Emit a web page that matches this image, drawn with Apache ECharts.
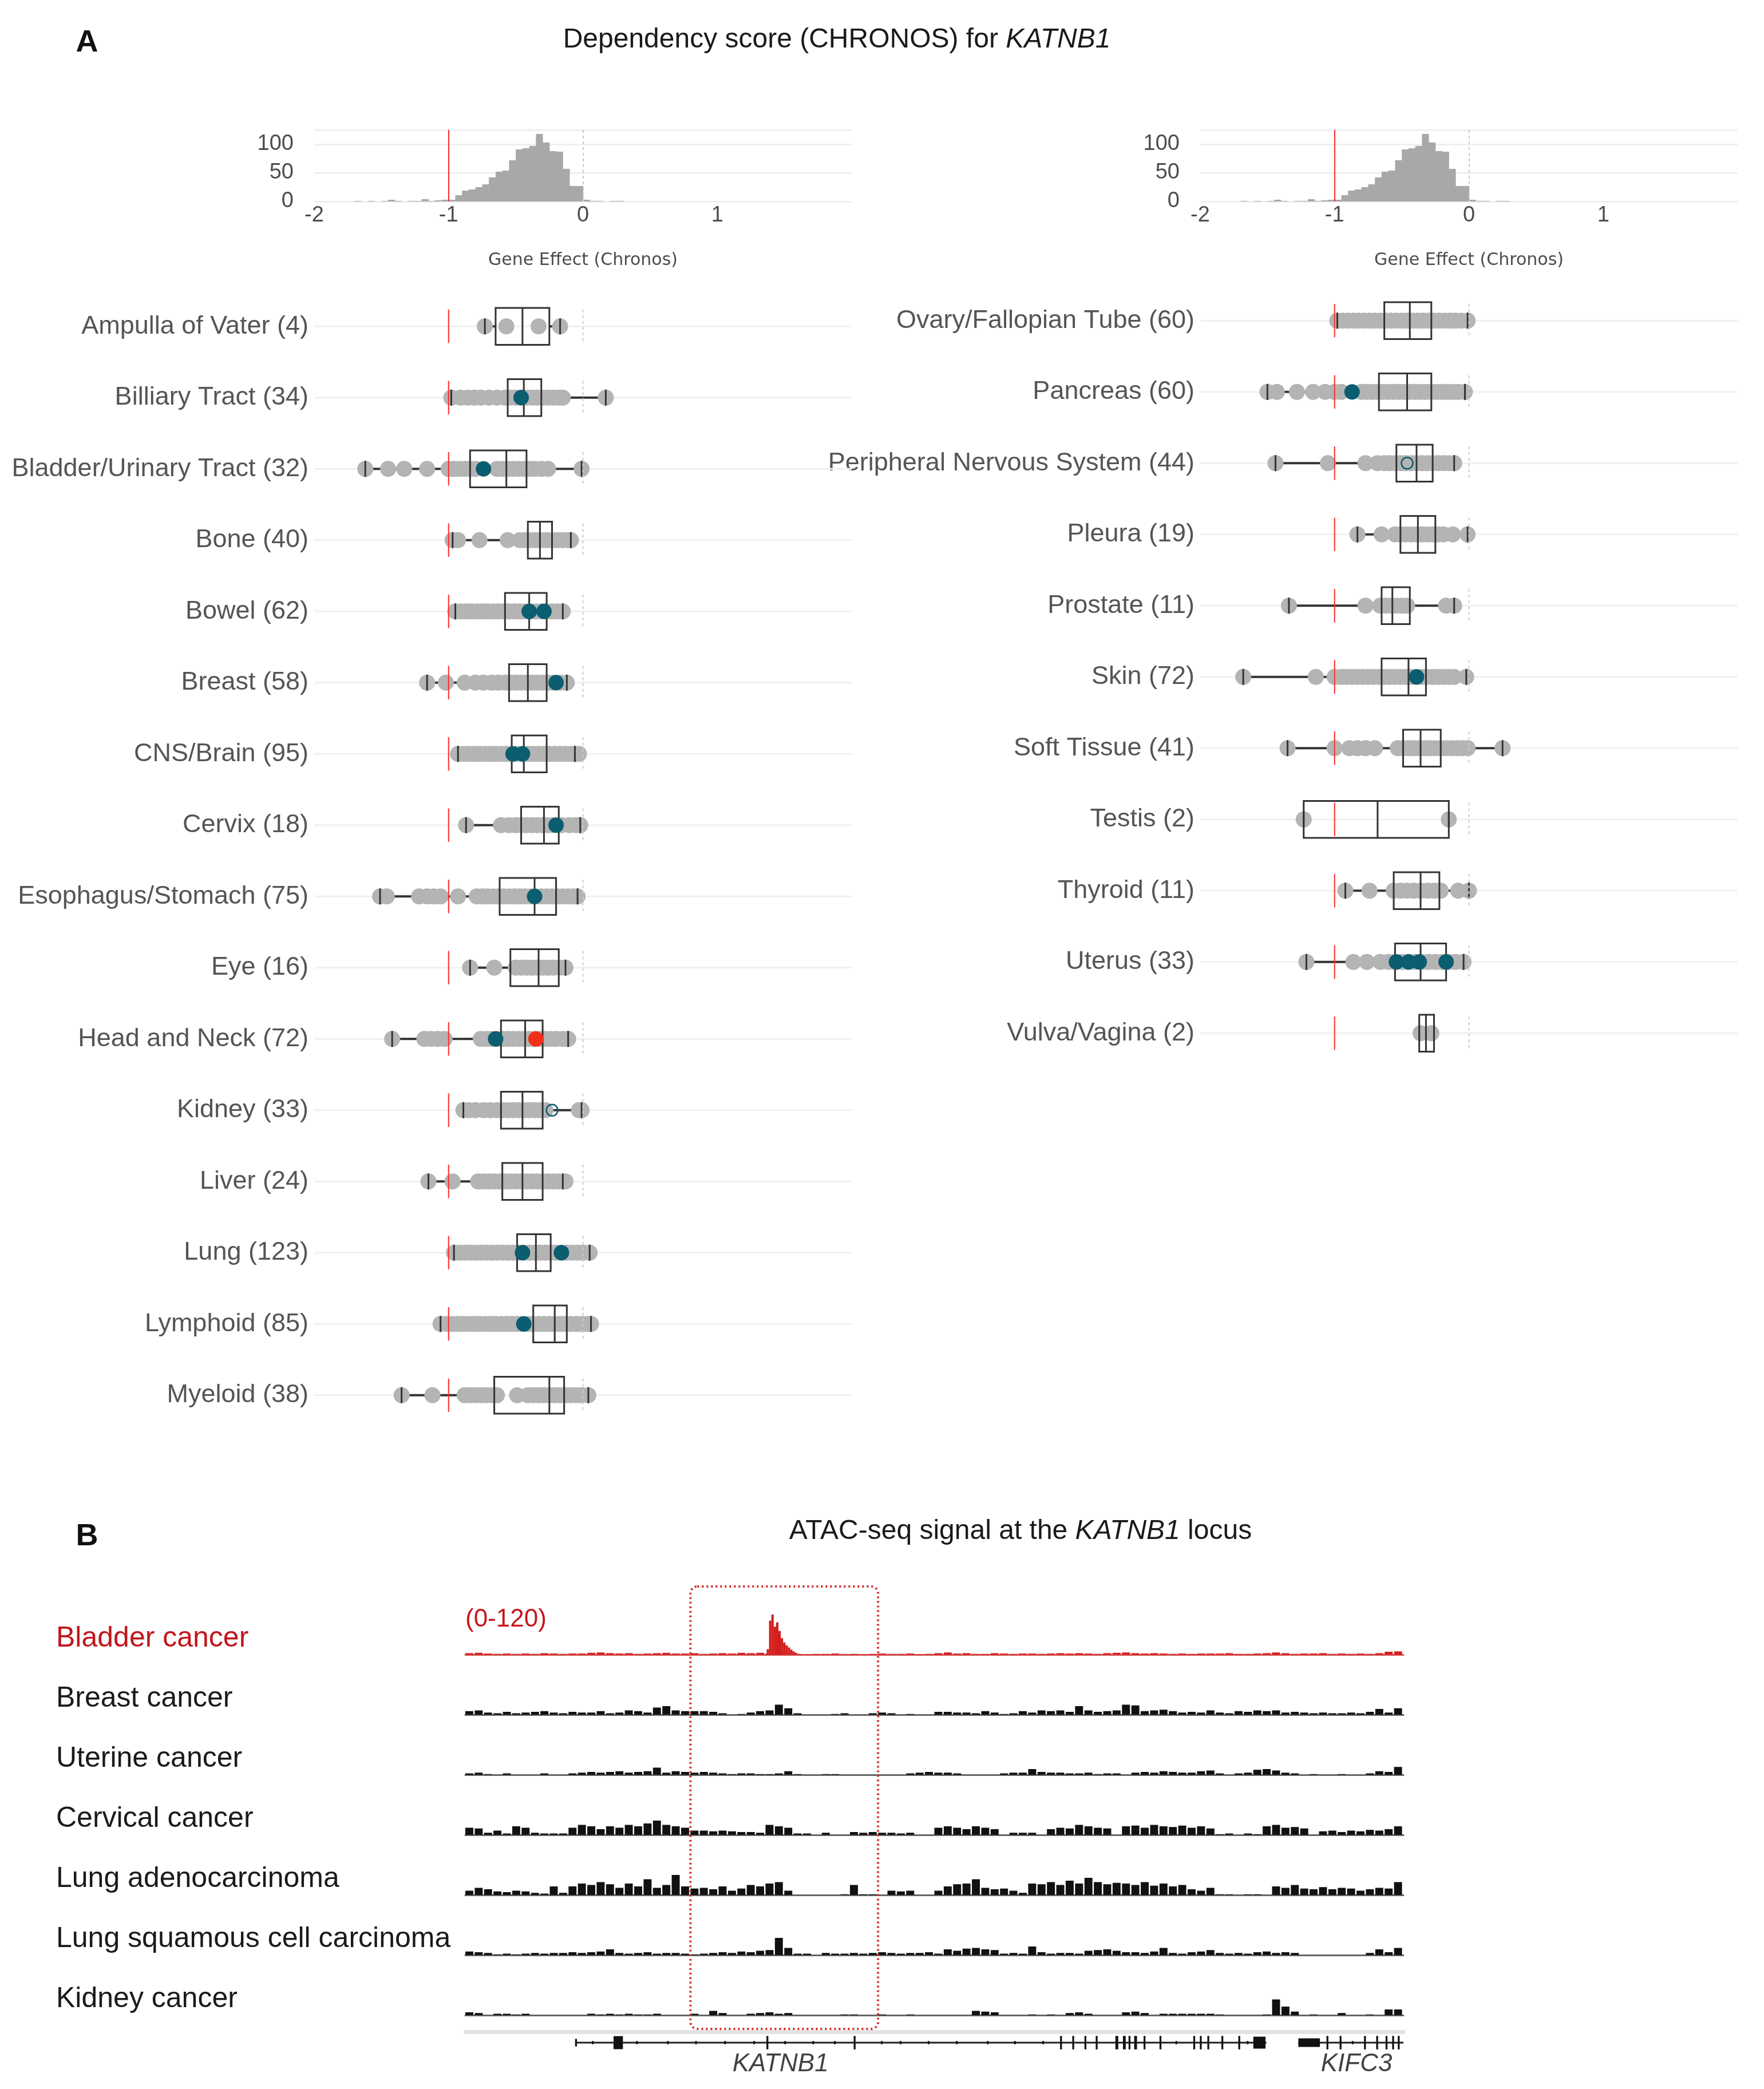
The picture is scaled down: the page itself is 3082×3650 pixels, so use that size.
<!DOCTYPE html>
<html>
<head>
<meta charset="utf-8">
<script src="https://cdn.jsdelivr.net/npm/echarts@6/dist/echarts.min.js"></script>
<style>
  html, body { margin: 0; padding: 0; background: #fff; }
  #chart { width: 3082px; height: 3650px; }
</style>
</head>
<body>
<div id="chart"></div>
<script>
// ---- panel A: histogram of gene effect ----
var histBinStart = [-1.70, -1.65, -1.60, -1.55, -1.50, -1.45, -1.40, -1.35, -1.30, -1.25,
                    -1.20, -1.15, -1.10, -1.05, -1.00, -0.95, -0.90, -0.85, -0.80, -0.75,
                    -0.70, -0.65, -0.60, -0.55, -0.50, -0.45, -0.40, -0.35, -0.30, -0.25,
                    -0.20, -0.15, -0.10, -0.05, 0.00, 0.05, 0.10, 0.15, 0.20, 0.25];
var histCounts = [1, 0, 1, 0, 1, 3, 1, 0, 1, 1,
                  4, 1, 2, 3, 3, 11, 19, 21, 25, 30,
                  42, 52, 54, 72, 91, 93, 97, 118, 103, 88,
                  87, 57, 27, 27, 3, 1, 1, 0, 1, 1];
var histBinWidth = 0.05;
var xTicks = [-2, -1, 0, 1];

// ---- panel A: lineages ----
var leftCats = ['Ampulla of Vater (4)', 'Billiary Tract (34)', 'Bladder/Urinary Tract (32)', 'Bone (40)',
  'Bowel (62)', 'Breast (58)', 'CNS/Brain (95)', 'Cervix (18)', 'Esophagus/Stomach (75)', 'Eye (16)',
  'Head and Neck (72)', 'Kidney (33)', 'Liver (24)', 'Lung (123)', 'Lymphoid (85)', 'Myeloid (38)'];
var rightCats = ['Ovary/Fallopian Tube (60)', 'Pancreas (60)', 'Peripheral Nervous System (44)', 'Pleura (19)',
  'Prostate (11)', 'Skin (72)', 'Soft Tissue (41)', 'Testis (2)', 'Thyroid (11)', 'Uterus (33)', 'Vulva/Vagina (2)'];

// [lower whisker, Q1, median, Q3, upper whisker]
var leftBox = [
  [-0.73, -0.65, -0.45, -0.25, -0.17],
  [-0.98, -0.56, -0.44, -0.31, 0.17],
  [-1.62, -0.84, -0.57, -0.42, -0.01],
  [-0.97, -0.41, -0.32, -0.23, -0.09],
  [-0.95, -0.58, -0.40, -0.27, -0.15],
  [-1.16, -0.55, -0.41, -0.27, -0.12],
  [-0.93, -0.53, -0.44, -0.27, -0.06],
  [-0.87, -0.46, -0.29, -0.18, -0.02],
  [-1.51, -0.62, -0.36, -0.20, -0.04],
  [-0.84, -0.54, -0.33, -0.18, -0.13],
  [-1.42, -0.61, -0.43, -0.30, -0.11],
  [-0.89, -0.61, -0.45, -0.30, -0.01],
  [-1.15, -0.60, -0.45, -0.30, -0.15],
  [-0.96, -0.49, -0.35, -0.24, 0.05],
  [-1.06, -0.37, -0.21, -0.12, 0.06],
  [-1.35, -0.66, -0.25, -0.14, 0.04]
];
var rightBox = [
  [-0.98, -0.63, -0.44, -0.28, -0.01],
  [-1.50, -0.67, -0.46, -0.28, -0.03],
  [-1.44, -0.54, -0.39, -0.27, -0.11],
  [-0.83, -0.51, -0.38, -0.25, -0.01],
  [-1.34, -0.65, -0.57, -0.44, -0.11],
  [-1.68, -0.65, -0.45, -0.32, -0.02],
  [-1.35, -0.49, -0.36, -0.21, 0.25],
  [-1.23, -1.23, -0.68, -0.15, -0.15],
  [-0.92, -0.56, -0.36, -0.22, 0.00],
  [-1.21, -0.55, -0.36, -0.17, -0.04],
  [-0.37, -0.37, -0.32, -0.26, -0.26]
];

// visible cell-line points per lineage (grey)
var leftPoints = [
  [-0.73, -0.57, -0.33, -0.17],
  [-0.98, -0.91, -0.86, -0.81, -0.76, -0.70, -0.64, -0.58, -0.54, -0.50, -0.46, -0.42, -0.38, -0.34, -0.30, -0.26, -0.22, -0.18, -0.15, 0.17],
  [-1.62, -1.45, -1.33, -1.16, -1.00, -0.96, -0.92, -0.88, -0.84, -0.80, -0.64, -0.60, -0.56, -0.52, -0.48, -0.44, -0.40, -0.36, -0.31, -0.26, -0.01],
  [-0.97, -0.93, -0.77, -0.56, -0.47, -0.43, -0.39, -0.35, -0.31, -0.27, -0.23, -0.19, -0.15, -0.11, -0.09],
  [-0.95, -0.91, -0.87, -0.83, -0.79, -0.75, -0.71, -0.67, -0.63, -0.59, -0.55, -0.51, -0.47, -0.43, -0.39, -0.35, -0.31, -0.27, -0.23, -0.19, -0.15],
  [-1.16, -1.02, -0.88, -0.80, -0.74, -0.68, -0.63, -0.58, -0.54, -0.50, -0.46, -0.42, -0.38, -0.34, -0.30, -0.26, -0.22, -0.17, -0.12],
  [-0.93, -0.89, -0.85, -0.81, -0.77, -0.73, -0.69, -0.65, -0.61, -0.57, -0.53, -0.49, -0.45, -0.41, -0.37, -0.33, -0.29, -0.25, -0.21, -0.17, -0.13, -0.09, -0.06, -0.03],
  [-0.87, -0.61, -0.55, -0.50, -0.46, -0.42, -0.38, -0.34, -0.30, -0.26, -0.22, -0.16, -0.10, -0.05, -0.02],
  [-1.51, -1.46, -1.22, -1.16, -1.11, -1.06, -0.93, -0.79, -0.75, -0.71, -0.67, -0.63, -0.59, -0.55, -0.51, -0.47, -0.43, -0.39, -0.35, -0.31, -0.27, -0.23, -0.19, -0.15, -0.11, -0.07, -0.04],
  [-0.84, -0.66, -0.50, -0.46, -0.42, -0.38, -0.34, -0.30, -0.26, -0.22, -0.17, -0.13],
  [-1.42, -1.18, -1.13, -1.08, -1.03, -0.76, -0.72, -0.68, -0.64, -0.60, -0.56, -0.52, -0.48, -0.44, -0.40, -0.36, -0.32, -0.28, -0.24, -0.20, -0.15, -0.11],
  [-0.89, -0.85, -0.80, -0.74, -0.69, -0.64, -0.60, -0.56, -0.52, -0.48, -0.44, -0.40, -0.36, -0.32, -0.28, -0.03, -0.01],
  [-1.15, -0.97, -0.78, -0.74, -0.70, -0.66, -0.62, -0.58, -0.54, -0.50, -0.46, -0.42, -0.38, -0.34, -0.30, -0.26, -0.22, -0.18, -0.13],
  [-0.96, -0.92, -0.88, -0.84, -0.80, -0.76, -0.72, -0.68, -0.64, -0.60, -0.56, -0.52, -0.48, -0.44, -0.40, -0.36, -0.32, -0.28, -0.24, -0.20, -0.16, -0.12, -0.08, -0.04, 0.00, 0.05],
  [-1.06, -1.01, -0.97, -0.93, -0.89, -0.85, -0.81, -0.77, -0.73, -0.69, -0.65, -0.61, -0.57, -0.53, -0.49, -0.45, -0.41, -0.37, -0.33, -0.29, -0.25, -0.21, -0.17, -0.13, -0.09, -0.05, -0.01, 0.03, 0.06],
  [-1.35, -1.12, -0.88, -0.84, -0.80, -0.76, -0.72, -0.68, -0.64, -0.49, -0.41, -0.37, -0.33, -0.29, -0.25, -0.21, -0.17, -0.13, -0.09, -0.05, -0.01, 0.04]
];
var rightPoints = [
  [-0.98, -0.94, -0.90, -0.86, -0.82, -0.78, -0.74, -0.70, -0.66, -0.62, -0.58, -0.54, -0.50, -0.46, -0.42, -0.38, -0.34, -0.30, -0.26, -0.22, -0.18, -0.14, -0.10, -0.06, -0.01],
  [-1.50, -1.43, -1.28, -1.16, -1.07, -1.00, -0.95, -0.80, -0.76, -0.72, -0.68, -0.64, -0.60, -0.56, -0.52, -0.48, -0.44, -0.40, -0.36, -0.32, -0.28, -0.24, -0.20, -0.16, -0.12, -0.08, -0.03],
  [-1.44, -1.05, -0.77, -0.68, -0.63, -0.59, -0.55, -0.51, -0.47, -0.43, -0.39, -0.35, -0.31, -0.27, -0.23, -0.19, -0.15, -0.11],
  [-0.83, -0.65, -0.55, -0.51, -0.47, -0.43, -0.39, -0.35, -0.31, -0.27, -0.23, -0.19, -0.12, -0.01],
  [-1.34, -0.77, -0.66, -0.62, -0.58, -0.54, -0.50, -0.46, -0.17, -0.11],
  [-1.68, -1.14, -1.00, -0.95, -0.91, -0.87, -0.83, -0.79, -0.75, -0.71, -0.67, -0.63, -0.59, -0.55, -0.51, -0.47, -0.43, -0.39, -0.35, -0.31, -0.27, -0.23, -0.19, -0.15, -0.11, -0.02],
  [-1.35, -1.00, -0.89, -0.83, -0.77, -0.70, -0.53, -0.49, -0.45, -0.41, -0.37, -0.33, -0.29, -0.25, -0.21, -0.17, -0.13, -0.09, -0.05, -0.01, 0.25],
  [-1.23, -0.15],
  [-0.92, -0.74, -0.56, -0.51, -0.46, -0.41, -0.36, -0.31, -0.26, -0.21, -0.08, 0.00],
  [-1.21, -0.86, -0.76, -0.66, -0.60, -0.55, -0.50, -0.45, -0.40, -0.35, -0.30, -0.25, -0.20, -0.15, -0.10, -0.04],
  [-0.36, -0.28]
];

// highlighted cell lines
var leftTeal = [['Billiary Tract (34)', -0.46], ['Bladder/Urinary Tract (32)', -0.74], ['Bowel (62)', -0.40],
  ['Bowel (62)', -0.29], ['Breast (58)', -0.20], ['CNS/Brain (95)', -0.52], ['CNS/Brain (95)', -0.45],
  ['Cervix (18)', -0.20], ['Esophagus/Stomach (75)', -0.36], ['Head and Neck (72)', -0.65],
  ['Lung (123)', -0.45], ['Lung (123)', -0.16], ['Lymphoid (85)', -0.44]];
var leftHollow = [['Kidney (33)', -0.23]];
var leftRed = [['Head and Neck (72)', -0.35]];
var rightTeal = [['Pancreas (60)', -0.87], ['Skin (72)', -0.39], ['Uterus (33)', -0.54],
  ['Uterus (33)', -0.45], ['Uterus (33)', -0.37], ['Uterus (33)', -0.17]];
var rightHollow = [['Peripheral Nervous System (44)', -0.46]];
var rightRed = [];

// ---- panel B: ATAC-seq tracks (signal per 10-unit bin) ----
var atacNames = ['Bladder cancer', 'Breast cancer', 'Uterine cancer', 'Cervical cancer',
  'Lung adenocarcinoma', 'Lung squamous cell carcinoma', 'Kidney cancer'];
var atacScale = [120, 60, 60, 60, 60, 60, 60];
var atacBin = 10;
var atacBladder = [4,5,3,2,3,2,3,2,4,3, 2,3,3,5,6,4,3,4,2,3, 4,5,3,3,4,2,3,4,3,5, 4,5,3,3,2,2,1,2,2,3,
  1,2,1,2,3,2,2,3,1,2, 4,6,3,4,2,2,4,3,2,3, 3,2,3,4,3,4,3,2,4,5, 6,4,3,4,3,2,3,2,3,3,
  3,4,2,2,3,4,6,4,2,3, 3,4,2,3,2,3,2,4,8,9];
var bladderPeak = [[322.5, 15], [325, 95], [327.5, 112], [330, 78], [332.5, 90], [335, 66], [337.5, 46],
  [340, 34], [342.5, 26], [345, 20], [347.5, 14], [350, 9], [352.5, 5]];
var atacBreast = [5,6,3,2,4,2,3,4,5,3, 2,4,3,3,5,2,3,6,5,3, 10,12,6,5,5,5,4,2,0,1, 3,5,6,14,9,2,0,0,0,1,
  2,0,0,2,3,2,0,1,0,0, 4,4,3,3,2,5,3,1,2,5, 3,6,5,6,4,12,6,4,5,6, 14,13,5,6,7,5,3,4,3,6,
  3,2,5,4,6,5,6,3,4,3, 2,3,2,2,3,2,4,8,3,9];
var atacUterine = [2,3,1,0,2,0,0,0,2,0, 0,2,3,4,3,4,5,3,4,5, 10,3,5,4,3,4,3,2,1,2, 2,1,1,2,5,1,0,0,1,1,
  0,0,0,0,0,0,0,2,3,4, 3,3,2,0,0,0,0,2,3,3, 8,4,3,3,2,2,3,1,2,2, 0,3,4,3,5,4,3,3,5,6,
  2,0,2,3,7,8,6,3,2,0, 1,0,0,1,0,0,2,5,4,11];
var atacCervical = [10,9,3,6,2,12,10,3,2,2, 2,10,14,12,8,12,10,14,12,16, 20,14,12,10,6,6,5,6,5,4,
  4,3,14,12,10,2,2,0,3,0, 0,4,3,4,3,3,2,3,0,0, 10,12,10,8,12,10,8,0,3,3, 3,0,8,10,9,14,12,10,9,0,
  12,13,10,14,12,11,13,10,12,9, 1,2,0,2,1,12,14,10,11,9, 0,5,6,4,6,5,7,6,8,12];
var atacLungAd = [6,10,8,5,4,6,5,3,2,12, 3,12,16,14,18,15,10,16,12,22, 10,14,28,12,9,10,8,12,6,9,
  14,12,16,18,6,0,0,0,0,0, 1,14,1,1,0,6,5,6,0,0, 6,12,15,16,22,10,8,9,6,3, 16,15,18,14,20,16,24,18,15,17,
  16,14,18,13,16,12,14,8,6,10, 1,1,0,1,1,0,12,10,14,9, 8,11,8,10,9,6,8,10,9,18];
var atacLungSq = [5,4,3,1,2,1,2,3,2,3, 3,4,3,4,5,8,3,2,3,4, 2,3,3,2,1,2,3,4,3,5, 4,6,7,24,10,2,2,0,3,2,
  2,3,2,3,4,3,2,3,3,4, 2,8,6,9,10,8,7,2,3,2, 12,4,2,3,3,2,6,7,8,6, 4,4,3,5,10,3,2,4,5,7,
  3,2,3,2,4,5,3,4,3,0, 0,0,0,0,0,0,3,8,4,10];
var atacKidney = [4,3,0,2,2,1,2,0,0,0, 0,0,0,2,1,2,1,2,1,1, 2,0,0,0,2,0,6,3,0,0, 2,3,4,2,3,0,0,0,0,0,
  1,1,0,0,1,0,0,1,0,0, 0,0,0,0,6,5,4,0,0,0, 1,0,1,0,3,4,2,0,0,0, 4,5,3,0,2,2,2,2,2,2,
  1,0,0,0,0,1,22,12,5,0, 1,0,0,3,0,0,1,0,8,8];
var atacTracks = [atacBladder, atacBreast, atacUterine, atacCervical, atacLungAd, atacLungSq, atacKidney];
var focusRegion = [240, 440];

// gene models on the same locus axis (0-1000)
var geneLines = [[118, 854], [888, 1000]];
// [start, end, half height]
var geneExons = [[117, 119, 0.35], [158, 168, 0.6], [321, 323, 0.62], [414, 416, 0.62],
  [634, 636, 0.62], [647, 649, 0.62], [660, 662, 0.62], [672, 674, 0.62], [693, 696, 0.62],
  [701, 704, 0.62], [707, 709, 0.62], [713, 716, 0.62], [723, 725, 0.62], [740, 742, 0.62],
  [776, 778, 0.62], [783, 785, 0.62], [791, 793, 0.62], [806, 808, 0.62], [824, 826, 0.62],
  [840, 853, 0.55], [888, 911, 0.4], [918, 920, 0.62], [932, 934, 0.62], [958, 960, 0.62],
  [971, 973, 0.62], [981, 983, 0.62], [988, 990, 0.62], [994, 996, 0.62],
  [135, 136, 0.15], [182, 183, 0.15], [215, 216, 0.15], [245, 246, 0.15], [276, 277, 0.15],
  [307, 308, 0.15], [340, 341, 0.15], [370, 371, 0.15], [393, 394, 0.15], [443, 444, 0.15],
  [463, 464, 0.15], [493, 494, 0.15], [523, 524, 0.15], [556, 557, 0.15], [585, 586, 0.15],
  [615, 616, 0.15], [757, 758, 0.15], [833, 834, 0.15], [945, 946, 0.15]];
var geneLabels = [['KATNB1', 336], ['KIFC3', 950]];

// ---------------------------------------------------------------------
var FONT = 'Liberation Sans, Arial, sans-serif';
var TEAL = '#0b5d70';
var chart = echarts.init(document.getElementById('chart'));

var grids = [], xAxes = [], yAxes = [], series = [];

function addGrid(g, xa, ya) {
  g.outerBoundsMode = 'none';
  grids.push(g);
  xa.gridIndex = grids.length - 1;
  ya.gridIndex = grids.length - 1;
  xAxes.push(xa);
  yAxes.push(ya);
  return grids.length - 1;
}

function histItem(params, api) {
  var p0 = api.coord([api.value(0), api.value(2)]);
  var p1 = api.coord([api.value(1), 0]);
  return { type: 'rect', shape: { x: p0[0], y: p0[1], width: p1[0] - p0[0] + 0.5, height: p1[1] - p0[1] },
    style: { fill: '#a8a8a8' } };
}

function addHistogram(left) {
  var gi = addGrid({ left: left, width: 939, top: 227, height: 125 }, {
    type: 'value', min: -2, max: 2, interval: 1,
    axisLine: { show: false }, axisTick: { show: false }, splitLine: { show: false },
    axisLabel: { fontSize: 38, color: '#4d4d4d', fontFamily: FONT, margin: 6, customValues: xTicks },
    name: 'Gene Effect (Chronos)', nameLocation: 'middle', nameGap: 88,
    nameTextStyle: { fontSize: 30, color: '#4d4d4d', fontFamily: 'DejaVu Sans' }
  }, {
    type: 'value', min: 0, max: 125, interval: 50,
    axisLine: { show: false }, axisTick: { show: false },
    splitLine: { lineStyle: { color: '#efefef', width: 3 } },
    axisLabel: { fontSize: 38, color: '#4d4d4d', fontFamily: FONT, margin: 36, showMaxLabel: false }
  });
  series.push({
    type: 'custom', xAxisIndex: gi, yAxisIndex: gi, silent: true, z: 2,
    renderItem: histItem, encode: { x: [0, 1], y: 2 },
    data: histBinStart.map(function (s, i) { return [s, s + histBinWidth, histCounts[i]]; }),
    markLine: {
      silent: true, symbol: ['none', 'none'], label: { show: false }, animation: false,
      data: [
        { xAxis: -1, lineStyle: { color: '#ff2a2a', width: 2, type: 'solid' } },
        { xAxis: 0, lineStyle: { color: '#c8c8c8', width: 2, type: [5, 5] } }
      ]
    }
  });
}

function rowGridItem(params, api) {
  var a = api.coord([-2, api.value(1)]);
  var b = api.coord([2, api.value(1)]);
  return { type: 'line', shape: { x1: a[0], y1: a[1], x2: b[0], y2: b[1] },
    style: { stroke: '#f0f0f0', lineWidth: 3 } };
}

function rowRefItem(params, api) {
  var c = api.value(1);
  var h = api.size([0, 1])[1] * 0.235;
  var r = api.coord([-1, c]), z = api.coord([0, c]);
  return { type: 'group', children: [
    { type: 'line', shape: { x1: z[0], y1: z[1] - h, x2: z[0], y2: z[1] + h },
      style: { stroke: '#cccccc', lineWidth: 2, lineDash: [5, 5] } },
    { type: 'line', shape: { x1: r[0], y1: r[1] - h, x2: r[0], y2: r[1] + h },
      style: { stroke: '#ff2a2a', lineWidth: 2 } }
  ] };
}

function whiskerItem(params, api) {
  var c = api.value(0);
  var lo = api.coord([api.value(1), c]), q1 = api.coord([api.value(2), c]);
  var q3 = api.coord([api.value(4), c]), hi = api.coord([api.value(5), c]);
  var st = { stroke: '#333', lineWidth: 4 };
  return { type: 'group', children: [
    { type: 'line', shape: { x1: lo[0], y1: lo[1], x2: q1[0], y2: q1[1] }, style: st },
    { type: 'line', shape: { x1: q3[0], y1: q3[1], x2: hi[0], y2: hi[1] }, style: st }
  ] };
}

function boxItem(params, api) {
  var c = api.value(0);
  var band = api.size([0, 1])[1];
  var hb = band * 0.26, hc = 14;
  var lo = api.coord([api.value(1), c]), q1 = api.coord([api.value(2), c]);
  var md = api.coord([api.value(3), c]);
  var q3 = api.coord([api.value(4), c]), hi = api.coord([api.value(5), c]);
  var st = { stroke: '#333', lineWidth: 3, fill: null };
  return { type: 'group', children: [
    { type: 'rect', shape: { x: q1[0], y: q1[1] - hb, width: q3[0] - q1[0], height: hb * 2 },
      style: { stroke: '#333', lineWidth: 3, fill: 'rgba(0,0,0,0)' } },
    { type: 'line', shape: { x1: md[0], y1: md[1] - hb, x2: md[0], y2: md[1] + hb }, style: st },
    { type: 'line', shape: { x1: lo[0], y1: lo[1] - hc, x2: lo[0], y2: lo[1] + hc }, style: st },
    { type: 'line', shape: { x1: hi[0], y1: hi[1] - hc, x2: hi[0], y2: hi[1] + hc }, style: st }
  ] };
}

function addBoxPanel(cats, box, points, teal, hollow, red, left, top) {
  var gi = addGrid({ left: left, width: 939, top: top, height: cats.length * 124.5 }, {
    type: 'value', min: -2, max: 2, show: false, splitLine: { show: false }
  }, {
    type: 'category', data: cats, inverse: true,
    axisLine: { show: false }, axisTick: { show: false }, splitLine: { show: false },
    axisLabel: { fontSize: 45, color: '#555', fontFamily: FONT, margin: 10 }
  });
  var rows = cats.map(function (c, i) { return [-2, i]; });
  var boxData = box.map(function (b, i) { return [i].concat(b); });
  var pts = [];
  points.forEach(function (arr, i) { arr.forEach(function (v) { pts.push([v, i]); }); });
  function toPts(list) { return list.map(function (p) { return [p[1], cats.indexOf(p[0])]; }); }
  series.push(
    { type: 'custom', xAxisIndex: gi, yAxisIndex: gi, silent: true, z: 1,
      renderItem: rowGridItem, encode: { x: 0, y: 1 }, data: rows },
    { type: 'custom', xAxisIndex: gi, yAxisIndex: gi, silent: true, z: 2,
      renderItem: whiskerItem, encode: { x: [1, 2, 3, 4, 5], y: 0 }, data: boxData },
    { type: 'scatter', xAxisIndex: gi, yAxisIndex: gi, silent: true, z: 3,
      symbolSize: 28, itemStyle: { color: '#b4b4b4', opacity: 1 }, data: pts },
    { type: 'custom', xAxisIndex: gi, yAxisIndex: gi, silent: true, z: 4,
      renderItem: boxItem, encode: { x: [1, 2, 3, 4, 5], y: 0 }, data: boxData },
    { type: 'custom', xAxisIndex: gi, yAxisIndex: gi, silent: true, z: 5,
      renderItem: rowRefItem, encode: { x: 0, y: 1 }, data: rows },
    { type: 'scatter', xAxisIndex: gi, yAxisIndex: gi, silent: true, z: 6,
      symbolSize: 27, itemStyle: { color: TEAL, opacity: 1 }, data: toPts(teal) },
    { type: 'scatter', xAxisIndex: gi, yAxisIndex: gi, silent: true, z: 6,
      symbolSize: 20, itemStyle: { color: 'rgba(0,0,0,0)', borderColor: TEAL, borderWidth: 2.5, opacity: 1 },
      data: toPts(hollow) },
    { type: 'scatter', xAxisIndex: gi, yAxisIndex: gi, silent: true, z: 6,
      symbolSize: 27, itemStyle: { color: '#f2301a', opacity: 1 }, data: toPts(red) }
  );
}

addHistogram(549);
addHistogram(2097);
addBoxPanel(leftCats, leftBox, leftPoints, leftTeal, leftHollow, leftRed, 549, 508);
addBoxPanel(rightCats, rightBox, rightPoints, rightTeal, rightHollow, rightRed, 2097, 498);

// ---- panel B ----
var trackLeft = 813, trackWidth = 1639, trackTop = 2816, trackGap = 105, trackH = 75;

function makeTrackItem(color, w) {
  return function (params, api) {
    var p0 = api.coord([api.value(0), api.value(2)]);
    var p1 = api.coord([api.value(1), 0]);
    return { type: 'rect', shape: { x: p0[0], y: p0[1], width: Math.max(1.5, (p1[0] - p0[0]) * w), height: p1[1] - p0[1] },
      style: { fill: color } };
  };
}

atacTracks.forEach(function (vals, k) {
  var color = k === 0 ? '#d21e1e' : '#111';
  var gi = addGrid({ left: trackLeft, width: trackWidth, top: trackTop + k * trackGap, height: trackH }, {
    type: 'value', min: 0, max: 1000, axisLabel: { show: false }, axisTick: { show: false },
    splitLine: { show: false },
    axisLine: { show: true, onZero: false, lineStyle: { color: k === 0 ? '#d85050' : '#666', width: 3 } }
  }, {
    type: 'value', min: 0, max: atacScale[k], show: false, splitLine: { show: false }
  });
  series.push({
    type: 'custom', xAxisIndex: gi, yAxisIndex: gi, silent: true, z: 3,
    renderItem: makeTrackItem(color, 0.85), encode: { x: [0, 1], y: 2 },
    data: vals.map(function (v, i) { return [i * atacBin, (i + 1) * atacBin, v]; })
  });
  if (k === 0) {
    series.push({
      type: 'custom', xAxisIndex: gi, yAxisIndex: gi, silent: true, z: 3,
      renderItem: makeTrackItem(color, 1), encode: { x: [0, 1], y: 2 },
      data: bladderPeak.map(function (p) { return [p[0] - 1.25, p[0] + 1.25, p[1]]; })
    });
  }
});

// focus box over the KATNB1 promoter
var fi = addGrid({ left: trackLeft, width: trackWidth, top: 2772, height: 773 }, {
  type: 'value', min: 0, max: 1000, show: false, splitLine: { show: false }
}, {
  type: 'value', min: 0, max: 1, show: false, splitLine: { show: false }
});
series.push({
  type: 'custom', xAxisIndex: fi, yAxisIndex: fi, silent: true, z: 8,
  encode: { x: [0, 1] }, data: [focusRegion],
  renderItem: function (params, api) {
    var a = api.coord([api.value(0), 1]);
    var b = api.coord([api.value(1), 0]);
    return { type: 'rect', shape: { x: a[0], y: a[1], width: b[0] - a[0], height: b[1] - a[1], r: 12 },
      style: { fill: 'rgba(0,0,0,0)', stroke: '#d42a2a', lineWidth: 4, lineDash: [3, 5] } };
  }
});

// gene track
var gg = addGrid({ left: trackLeft, width: trackWidth, top: 3550, height: 38 }, {
  type: 'value', min: 0, max: 1000, position: 'top', axisLabel: { show: false }, axisTick: { show: false },
  splitLine: { show: false }, axisLine: { show: true, onZero: false, lineStyle: { color: '#e2e2e2', width: 7 } }
}, {
  type: 'value', min: -1, max: 1, show: false, splitLine: { show: false }
});
series.push({
  type: 'custom', xAxisIndex: gg, yAxisIndex: gg, silent: true, z: 3,
  encode: { x: [0, 1] }, data: geneLines,
  renderItem: function (params, api) {
    var a = api.coord([api.value(0), 0]);
    var b = api.coord([api.value(1), 0]);
    return { type: 'line', shape: { x1: a[0], y1: a[1], x2: b[0], y2: b[1] }, style: { stroke: '#222', lineWidth: 3 } };
  }
}, {
  type: 'custom', xAxisIndex: gg, yAxisIndex: gg, silent: true, z: 4,
  encode: { x: [0, 1], y: 2 }, data: geneExons,
  renderItem: function (params, api) {
    var h = api.value(2);
    var a = api.coord([api.value(0), h]);
    var b = api.coord([api.value(1), -h]);
    return { type: 'rect', shape: { x: a[0], y: a[1], width: Math.max(3, b[0] - a[0]), height: b[1] - a[1] },
      style: { fill: '#111' } };
  }
}, {
  type: 'scatter', xAxisIndex: gg, yAxisIndex: gg, silent: true, z: 4, symbolSize: 0,
  data: geneLabels.map(function (g) { return { name: g[0], value: [g[1], 0] }; }),
  label: { show: true, position: 'bottom', distance: 16, formatter: '{b}',
    fontSize: 44, fontStyle: 'italic', color: '#111', fontFamily: FONT }
});

// texts
var graphics = [
  { type: 'text', x: 152, y: 75, style: { text: 'A', fontSize: 54, fontWeight: 'bold', fontFamily: FONT,
    fill: '#111', textAlign: 'center', textVerticalAlign: 'middle' } },
  { type: 'text', x: 152, y: 2685, style: { text: 'B', fontSize: 54, fontWeight: 'bold', fontFamily: FONT,
    fill: '#111', textAlign: 'center', textVerticalAlign: 'middle' } },
  { type: 'text', x: trackLeft, y: 2830, style: { text: '(0-120)', fontSize: 44, fontFamily: FONT,
    fill: '#c8161c', textAlign: 'left', textVerticalAlign: 'middle' } }
];
atacNames.forEach(function (n, k) {
  graphics.push({ type: 'text', x: 98, y: trackTop + trackH + k * trackGap - 28,
    style: { text: n, fontSize: 50, fontFamily: FONT, fill: k === 0 ? '#c0161c' : '#1a1a1a',
      textAlign: 'left', textVerticalAlign: 'middle' } });
});

function richTitle(pre, gene, post) {
  return '{n|' + pre + '}{i|' + gene + '}' + (post ? '{n|' + post + '}' : '');
}
var titleRich = {
  n: { fontSize: 48, fontFamily: FONT, color: '#1a1a1a', fontWeight: 'normal' },
  i: { fontSize: 48, fontFamily: FONT, color: '#1a1a1a', fontStyle: 'italic', fontWeight: 'normal' }
};

chart.setOption({
  animation: false,
  backgroundColor: '#fff',
  title: [
    { text: richTitle('Dependency score (CHRONOS) for ', 'KATNB1'), left: 1462, top: 46, padding: 0,
      textAlign: 'center', textStyle: { fontWeight: 'normal', rich: titleRich } },
    { text: richTitle('ATAC-seq signal at the ', 'KATNB1', ' locus'), left: 1783, top: 2652, padding: 0,
      textAlign: 'center', textStyle: { fontWeight: 'normal', rich: titleRich } }
  ],
  grid: grids,
  xAxis: xAxes,
  yAxis: yAxes,
  graphic: graphics,
  series: series
});

window.addEventListener('resize', chart.resize);
</script>
</body>
</html>
